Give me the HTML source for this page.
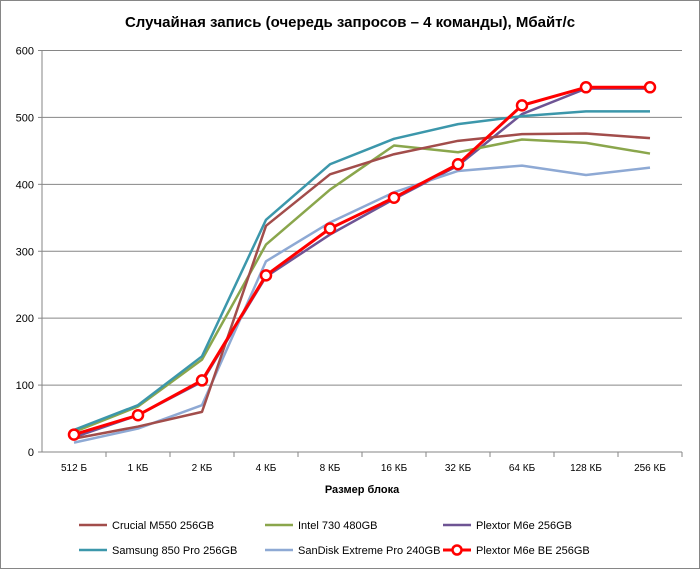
<!DOCTYPE html>
<html><head><meta charset="utf-8"><style>
body{margin:0;background:#fff;font-family:"Liberation Sans",sans-serif;}
#wrap{position:relative;width:698px;height:567px;border:1px solid #868686;}
</style></head><body>
<div id="wrap">
<svg id="chart" width="698" height="567"></svg>
</div>
<script>
const categories=["512 Б","1 КБ","2 КБ","4 КБ","8 КБ","16 КБ","32 КБ","64 КБ","128 КБ","256 КБ"];
const yTicks=[0,100,200,300,400,500,600];
const crucial=[20,38,60,338,415,445,465,475,476,469];
const intel=[30,68,138,310,392,458,448,467,462,446];
const plextor=[22,55,105,262,325,378,428,505,543,543];
const samsung=[33,70,143,347,430,468,490,502,509,509];
const sandisk=[14,35,70,285,343,388,420,428,414,425];
const plextorBE=[26,55,107,264,334,380,430,518,545,545];
const seriesNames=["Crucial M550 256GB","Intel 730 480GB","Plextor M6e 256GB","Samsung 850 Pro 256GB","SanDisk Extreme Pro 240GB","Plextor M6e BE 256GB"];

const NS="http://www.w3.org/2000/svg";
const svg=document.getElementById('chart');
const L=41,R=681,T=49.5,B=451,yMax=600;
const band=(R-L)/categories.length;
const x=i=>L+band*(i+0.5);
const y=v=>B-(v/yMax)*(B-T);
function el(tag,attrs,parent){const e=document.createElementNS(NS,tag);for(const k in attrs)e.setAttribute(k,attrs[k]);(parent||svg).appendChild(e);return e;}

let t=el('text',{x:349,y:26,'text-anchor':'middle','font-size':15,'font-weight':'bold',fill:'#000'});

t.textContent='Случайная запись (очередь запросов – 4 команды), Мбайт/с';

yTicks.forEach(v=>{
  const g=el('line',{x1:L,x2:R,y1:y(v),y2:y(v),stroke:'#868686','stroke-width':1});
  
  const tk=el('line',{x1:L-4,x2:L,y1:y(v),y2:y(v),stroke:'#868686'});
  
  const lb=el('text',{x:L-8,y:y(v)+4,'text-anchor':'end','font-size':11,fill:'#000'});
  
  lb.textContent=v;
});
let ax=el('line',{x1:L,x2:L,y1:T,y2:B,stroke:'#868686'});

categories.forEach((c,i)=>{
  const tk=el('line',{x1:L+band*(i+1),x2:L+band*(i+1),y1:B,y2:B+5,stroke:'#868686'});
  
  const lb=el('text',{x:x(i),y:B+19,'text-anchor':'middle','font-size':10,fill:'#000'});
  
  lb.textContent=c;
});
let xt=el('text',{x:361,y:492,'text-anchor':'middle','font-size':11,'font-weight':'bold',fill:'#000'});

xt.textContent='Размер блока';

const series=[
 {d:crucial,c:'#A24D4B',w:2.5},{d:intel,c:'#8AA64C',w:2.5},{d:plextor,c:'#6E5494',w:2.5},
 {d:samsung,c:'#3C97AB',w:2.5},{d:sandisk,c:'#8EA9D4',w:2.5},{d:plextorBE,c:'#FF0000',w:3,m:true}
];
const order=[2,4,1,0,3,5];
order.forEach(si=>{
  const s=series[si];
  const p=el('polyline',{points:s.d.map((v,i)=>x(i)+','+y(v)).join(' '),fill:'none',stroke:s.c,'stroke-width':s.w,'stroke-linejoin':'round'});
  
  if(s.m) s.d.forEach((v,i)=>{
    const c=el('circle',{cx:x(i),cy:y(v),r:5,fill:'#fff',stroke:s.c,'stroke-width':2.5});
    
  });
});

const legPos=[[78,524],[264,524],[442,524],[78,549],[264,549],[442,549]];
series.forEach((s,i)=>{
  const [lx,ly]=legPos[i];
  const g=el('g',{});
  
  el('line',{x1:lx,x2:lx+28,y1:ly,y2:ly,stroke:s.c,'stroke-width':s.w},g);
  if(s.m) el('circle',{cx:lx+14,cy:ly,r:4.5,fill:'#fff',stroke:s.c,'stroke-width':2.5},g);
  const tx=el('text',{x:lx+33,y:ly+4,'font-size':11,fill:'#000'},g);
  tx.textContent=seriesNames[i];
});
</script>
</body></html>
